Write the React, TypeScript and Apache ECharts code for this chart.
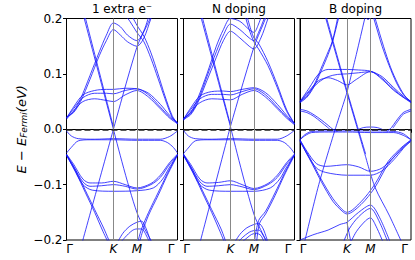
import React, { useEffect, useRef } from "react";
import * as echarts from "echarts";

// k-path positions: Γ=0, K=1, M=1.5, Γ=2.366
const kTicks = [0, 1, 1.5, 2.366];
const kLabels = ["Γ", "K", "M", "Γ"];
const yTicks = [-0.2, -0.1, 0, 0.1, 0.2];
const titles = ["1 extra e⁻", "N doping", "B doping"];

// Panel 1: 1 extra electron
const p1Upper = [
  [[0.3, 0.225], [1.0, 0.0]],
  [[0.33, 0.225], [1.0, 0.004]],
  [[1.0, 0.0], [1.5, 0.148], [1.7, 0.185], [1.85, 0.212]],
  [[0, 0.022], [0.15, 0.032], [0.3, 0.055], [0.5, 0.097], [0.7, 0.14], [0.85, 0.17], [1.0, 0.192], [1.15, 0.185], [1.3, 0.17], [1.5, 0.16], [1.65, 0.178], [1.78, 0.212]],
  [[0, 0.022], [0.15, 0.03], [0.3, 0.05], [0.5, 0.09], [0.7, 0.133], [0.85, 0.16], [1.0, 0.18], [1.15, 0.17], [1.3, 0.158], [1.5, 0.15], [1.65, 0.165], [1.8, 0.2], [1.86, 0.212]],
  [[2.366, 0.01], [2.25, 0.025], [2.1, 0.06], [1.95, 0.1], [1.8, 0.138], [1.65, 0.168], [1.5, 0.188], [1.35, 0.212]],
  [[2.366, 0.01], [2.25, 0.022], [2.1, 0.055], [1.95, 0.092], [1.8, 0.128], [1.65, 0.158], [1.5, 0.175], [1.35, 0.195], [1.2, 0.212]],
  [[0, 0.02], [0.15, 0.04], [0.35, 0.062], [0.6, 0.07], [0.85, 0.072], [1.0, 0.072], [1.25, 0.074], [1.5, 0.073], [1.75, 0.065], [2.0, 0.045], [2.2, 0.025], [2.366, 0.012]],
  [[0, 0.02], [0.15, 0.037], [0.35, 0.057], [0.6, 0.065], [0.85, 0.065], [1.0, 0.064], [1.25, 0.07], [1.5, 0.073], [1.75, 0.062], [2.0, 0.04], [2.2, 0.022], [2.366, 0.012]],
  [[0, 0.018], [0.15, 0.033], [0.35, 0.05], [0.6, 0.055], [0.85, 0.052], [1.0, 0.05], [1.25, 0.062], [1.5, 0.07], [1.75, 0.058], [2.0, 0.037], [2.2, 0.02], [2.366, 0.01]],
];
const p1Lower = [
  [[1.0, 0.0], [0.3, -0.215]],
  [[1.0, 0.0], [1.5, -0.15], [1.9, -0.215]],
  [[0, -0.003], [0.1, -0.012], [0.25, -0.017], [0.6, -0.018], [1.0, -0.017], [1.5, -0.018], [2.0, -0.018], [2.2, -0.013], [2.366, -0.003]],
  [[0, -0.043], [0.1, -0.033], [0.25, -0.021], [0.5, -0.019], [1.0, -0.019], [1.5, -0.02], [2.0, -0.02], [2.15, -0.024], [2.28, -0.033], [2.366, -0.043]],
  [[0, -0.045], [0.15, -0.063], [0.35, -0.09], [0.5, -0.097], [0.75, -0.097], [1.0, -0.094], [1.25, -0.1], [1.5, -0.106], [1.8, -0.098], [2.0, -0.083], [2.2, -0.06], [2.366, -0.045]],
  [[0, -0.047], [0.15, -0.067], [0.35, -0.095], [0.5, -0.103], [0.75, -0.102], [1.0, -0.1], [1.25, -0.103], [1.5, -0.108], [1.8, -0.1], [2.0, -0.087], [2.2, -0.063], [2.366, -0.047]],
  [[0, -0.047], [0.15, -0.07], [0.35, -0.1], [0.55, -0.11], [1.0, -0.112], [1.5, -0.111], [1.85, -0.106], [2.05, -0.09], [2.2, -0.068], [2.366, -0.047]],
  [[0, -0.045], [0.2, -0.075], [0.4, -0.11], [0.6, -0.145], [0.8, -0.18], [0.95, -0.21]],
  [[0, -0.047], [0.2, -0.078], [0.4, -0.114], [0.6, -0.15], [0.78, -0.185], [0.92, -0.21]],
  [[2.366, -0.045], [2.15, -0.08], [1.95, -0.115], [1.75, -0.15], [1.6, -0.18], [1.5, -0.21]],
  [[2.366, -0.047], [2.15, -0.083], [1.95, -0.12], [1.75, -0.155], [1.62, -0.185], [1.54, -0.21]],
  [[1.05, -0.21], [1.2, -0.188], [1.35, -0.175], [1.5, -0.168], [1.6, -0.166], [1.7, -0.18], [1.82, -0.21]],
  [[1.1, -0.21], [1.25, -0.195], [1.4, -0.183], [1.5, -0.18], [1.6, -0.18], [1.72, -0.195], [1.8, -0.21]],
];

// Panel 2: N doping
const p2Upper = [
  [[0.3, 0.225], [1.0, 0.005]],
  [[0.33, 0.225], [1.0, 0.008]],
  [[1.0, 0.005], [1.5, 0.148], [1.7, 0.19], [1.82, 0.215]],
  [[0, 0.02], [0.15, 0.03], [0.3, 0.055], [0.5, 0.1], [0.7, 0.15], [0.85, 0.18], [1.0, 0.2], [1.2, 0.195], [1.4, 0.18], [1.5, 0.175], [1.6, 0.19], [1.7, 0.215]],
  [[0, 0.02], [0.15, 0.028], [0.3, 0.05], [0.5, 0.095], [0.7, 0.14], [0.85, 0.17], [1.0, 0.19], [1.2, 0.18], [1.4, 0.165], [1.5, 0.16], [1.6, 0.175], [1.72, 0.2], [1.78, 0.215]],
  [[0, 0.018], [0.15, 0.026], [0.3, 0.047], [0.5, 0.088], [0.7, 0.13], [0.85, 0.16], [1.0, 0.177], [1.2, 0.165], [1.4, 0.15], [1.5, 0.145], [1.65, 0.165], [1.8, 0.2], [1.85, 0.215]],
  [[2.366, 0.01], [2.2, 0.035], [2.0, 0.08], [1.8, 0.122], [1.6, 0.155], [1.5, 0.165], [1.4, 0.19], [1.32, 0.215]],
  [[2.366, 0.01], [2.2, 0.032], [2.0, 0.075], [1.8, 0.115], [1.6, 0.145], [1.5, 0.158], [1.4, 0.18], [1.28, 0.215]],
  [[0, 0.018], [0.15, 0.038], [0.35, 0.06], [0.6, 0.068], [0.85, 0.069], [1.0, 0.068], [1.25, 0.072], [1.5, 0.075], [1.75, 0.066], [2.0, 0.045], [2.2, 0.025], [2.366, 0.01]],
  [[0, 0.018], [0.15, 0.035], [0.35, 0.055], [0.6, 0.063], [0.85, 0.063], [1.0, 0.062], [1.25, 0.068], [1.5, 0.073], [1.75, 0.062], [2.0, 0.04], [2.2, 0.022], [2.366, 0.01]],
  [[0, 0.016], [0.15, 0.031], [0.35, 0.048], [0.6, 0.055], [0.85, 0.054], [1.0, 0.053], [1.25, 0.063], [1.5, 0.07], [1.75, 0.058], [2.0, 0.037], [2.2, 0.02], [2.366, 0.008]],
];
const p2Lower = [
  [[1.0, 0.005], [0.32, -0.215]],
  [[1.0, 0.005], [1.5, -0.153], [1.85, -0.215]],
  [[0, -0.002], [0.1, -0.012], [0.25, -0.017], [0.6, -0.018], [1.0, -0.017], [1.5, -0.018], [2.0, -0.018], [2.2, -0.012], [2.366, -0.002]],
  [[0, -0.044], [0.1, -0.034], [0.25, -0.021], [0.5, -0.019], [1.0, -0.019], [1.5, -0.02], [2.0, -0.02], [2.15, -0.024], [2.28, -0.034], [2.366, -0.044]],
  [[0, -0.045], [0.15, -0.063], [0.35, -0.09], [0.5, -0.097], [0.75, -0.096], [1.0, -0.093], [1.25, -0.1], [1.5, -0.107], [1.8, -0.098], [2.0, -0.083], [2.2, -0.06], [2.366, -0.045]],
  [[0, -0.047], [0.15, -0.067], [0.35, -0.095], [0.5, -0.103], [0.75, -0.102], [1.0, -0.1], [1.25, -0.104], [1.5, -0.109], [1.8, -0.1], [2.0, -0.087], [2.2, -0.063], [2.366, -0.047]],
  [[0, -0.047], [0.15, -0.07], [0.35, -0.1], [0.55, -0.11], [1.0, -0.112], [1.5, -0.112], [1.85, -0.106], [2.05, -0.09], [2.2, -0.068], [2.366, -0.047]],
  [[0, -0.045], [0.2, -0.075], [0.4, -0.11], [0.6, -0.145], [0.8, -0.18], [0.93, -0.21]],
  [[0, -0.047], [0.2, -0.078], [0.4, -0.114], [0.6, -0.15], [0.78, -0.185], [0.9, -0.21]],
  [[2.366, -0.045], [2.15, -0.08], [1.95, -0.115], [1.75, -0.148], [1.6, -0.165], [1.5, -0.21]],
  [[2.366, -0.047], [2.15, -0.083], [1.95, -0.12], [1.75, -0.153], [1.62, -0.17], [1.55, -0.21]],
  [[1.05, -0.21], [1.2, -0.19], [1.35, -0.178], [1.5, -0.172], [1.6, -0.17], [1.7, -0.18], [1.82, -0.21]],
  [[1.1, -0.21], [1.25, -0.196], [1.4, -0.186], [1.5, -0.183], [1.6, -0.182], [1.72, -0.195], [1.8, -0.21]],
  [[1.15, -0.21], [1.3, -0.2], [1.45, -0.19], [1.55, -0.188], [1.65, -0.192], [1.75, -0.21]],
];

// Panel 3: B doping
const p3Upper = [
  [[0.5, 0.215], [1.0, 0.066], [1.2, 0.008], [1.4, -0.05]],
  [[0.52, 0.215], [1.0, 0.07], [1.2, 0.012], [1.4, -0.045]],
  [[1.0, 0.066], [1.2, 0.135], [1.38, 0.2], [1.42, 0.215]],
  [[1.0, 0.066], [0.75, 0.0]],
  [[0, 0.05], [0.15, 0.06], [0.3, 0.08], [0.45, 0.11], [0.6, 0.14], [0.69, 0.159], [0.8, 0.2], [0.83, 0.215]],
  [[0, 0.048], [0.15, 0.058], [0.3, 0.077], [0.45, 0.105], [0.6, 0.135], [0.7, 0.16], [0.82, 0.2], [0.86, 0.215]],
  [[1.52, 0.212], [1.58, 0.198], [1.75, 0.15], [1.9, 0.115], [2.05, 0.085], [2.2, 0.063], [2.366, 0.05]],
  [[1.56, 0.212], [1.62, 0.195], [1.78, 0.15], [1.93, 0.112], [2.08, 0.083], [2.22, 0.062], [2.366, 0.048]],
  [[1.3, 0.215], [1.38, 0.205], [1.45, 0.198], [1.52, 0.205], [1.56, 0.215]],
  [[0, 0.05], [0.2, 0.075], [0.4, 0.1], [0.6, 0.108], [1.0, 0.108], [1.25, 0.107], [1.5, 0.105], [1.75, 0.095], [2.0, 0.075], [2.2, 0.06], [2.366, 0.05]],
  [[0, 0.05], [0.2, 0.07], [0.4, 0.088], [0.6, 0.093], [0.8, 0.088], [1.0, 0.08], [1.2, 0.09], [1.5, 0.104], [1.75, 0.092], [2.0, 0.072], [2.2, 0.058], [2.366, 0.05]],
  [[0, 0.048], [0.2, 0.068], [0.4, 0.085], [0.6, 0.095], [0.8, 0.099], [1.0, 0.1], [1.25, 0.102], [1.5, 0.104], [1.75, 0.09], [2.0, 0.07], [2.366, 0.048]],
  [[0, 0.036], [0.15, 0.033], [0.3, 0.026], [0.45, 0.017], [0.6, 0.007], [0.7, 0.0], [0.8, -0.004]],
  [[0, 0.033], [0.15, 0.03], [0.3, 0.023], [0.45, 0.013], [0.58, 0.004], [0.66, -0.002]],
  [[2.366, 0.036], [2.2, 0.03], [2.05, 0.015], [1.95, 0.003], [1.85, -0.004]],
  [[2.366, 0.033], [2.2, 0.027], [2.08, 0.014], [1.98, 0.002]],
  [[1.2, -0.002], [1.35, 0.003], [1.5, 0.004], [1.65, 0.003], [1.8, -0.002]],
];
const p3Lower = [
  [[0.75, 0.0], [0.4, -0.1], [0.08, -0.21]],
  [[1.4, -0.05], [1.6, -0.105], [1.9, -0.155], [2.2, -0.21]],
  [[0, -0.019], [0.1, -0.01], [0.25, -0.004], [0.6, -0.003], [1.0, -0.003], [1.5, -0.003], [2.0, -0.004], [2.2, -0.008], [2.366, -0.019]],
  [[0, -0.019], [0.1, -0.012], [0.25, -0.006], [0.6, -0.005], [1.0, -0.005], [1.5, -0.006], [2.0, -0.006], [2.2, -0.011], [2.366, -0.019]],
  [[0, -0.019], [0.15, -0.04], [0.35, -0.062], [0.55, -0.067], [1.0, -0.064], [1.25, -0.068], [1.5, -0.076], [1.75, -0.07], [2.0, -0.05], [2.2, -0.032], [2.366, -0.019]],
  [[0, -0.02], [0.15, -0.045], [0.35, -0.07], [0.55, -0.078], [1.0, -0.083], [1.3, -0.083], [1.5, -0.083], [1.75, -0.075], [2.0, -0.055], [2.2, -0.035], [2.366, -0.02]],
  [[0, -0.02], [0.2, -0.05], [0.45, -0.09], [0.7, -0.125], [0.9, -0.145], [1.0, -0.15], [1.3, -0.131], [1.59, -0.1], [1.88, -0.058], [2.2, -0.03], [2.366, -0.02]],
  [[0, -0.022], [0.2, -0.053], [0.45, -0.094], [0.7, -0.13], [0.9, -0.148], [1.0, -0.153], [1.3, -0.136], [1.59, -0.106], [1.88, -0.063], [2.2, -0.033], [2.366, -0.022]],
  [[0, -0.2], [0.3, -0.19], [0.6, -0.182], [0.85, -0.172], [1.0, -0.168], [1.25, -0.15], [1.5, -0.137], [1.7, -0.16], [1.95, -0.21]],
  [[0.9, -0.21], [1.05, -0.18], [1.25, -0.158], [1.5, -0.143], [1.68, -0.165], [1.9, -0.21]],
  [[1.0, -0.168], [1.1, -0.21]],
  [[1.05, -0.21], [1.2, -0.185], [1.4, -0.165], [1.5, -0.16], [1.62, -0.175], [1.8, -0.21]],
];

const panels = [
  { upper: p1Upper, lower: p1Lower },
  { upper: p2Upper, lower: p2Lower },
  { upper: p3Upper, lower: p3Lower },
];

const FONT = "DejaVu Sans";
const BAND = "rgba(20,20,255,0.8)";

export default function App() {
  const ref = useRef<HTMLDivElement>(null);
  useEffect(() => {
    const chart = echarts.init(ref.current!, null, { renderer: "svg" });
    const lefts = [66.5, 183.5, 300];
    const width = 111;
    const top = 18.5;
    const height = 221.5;
    const grids = lefts.map((l) => ({
      left: l,
      top,
      width,
      height,
      show: true,
      borderColor: "#000",
      borderWidth: 1,
      containLabel: false,
    }));
    const labStyle = { fontFamily: FONT, fontSize: 12, color: "#000" };
    const xAxes = lefts.map((_, i) => ({
      type: "value",
      gridIndex: i,
      min: 0,
      max: kTicks[3],
      axisLine: { show: true, lineStyle: { color: "#000", width: 1 } },
      splitLine: { show: false },
      axisTick: {
        show: true,
        customValues: kTicks,
        length: 3.5,
        lineStyle: { color: "#000" },
      },
      axisLabel: {
        show: true,
        customValues: kTicks,
        margin: 3,
        ...labStyle,
        formatter: (v: number) => {
          let best = 0;
          kTicks.forEach((t, j) => {
            if (Math.abs(t - v) < Math.abs(kTicks[best] - v)) best = j;
          });
          const s = kLabels[best];
          if (best === 0) return "{gl|" + s + "}";
          if (best === 3) return "{gr|" + s + "}";
          return "{it|" + s + "}";
        },
        rich: {
          it: { ...labStyle, fontStyle: "italic" },
          gl: { ...labStyle, padding: [0, 0, 0, 6] },
          gr: { ...labStyle, padding: [0, 13, 0, 0] },
        },
      },
    }));
    const yAxes = lefts.map((_, i) => ({
      type: "value",
      gridIndex: i,
      min: yTicks[0],
      max: yTicks[4],
      interval: 0.1,
      axisLine: { show: true, lineStyle: { color: "#000", width: 1 } },
      splitLine: { show: false },
      axisTick: { show: true, length: 3.5, lineStyle: { color: "#000" } },
      axisLabel: {
        show: i === 0,
        margin: 4,
        ...labStyle,
        formatter: (v: number) => {
          const s = (Math.abs(v) < 1e-9 ? 0 : v).toFixed(1);
          return s.replace("-", "−");
        },
      },
      name: i === 0 ? "{i|E} − {i|E}{s|Fermi}{n|(eV)}" : "",
      nameLocation: "middle",
      nameGap: 38,
      nameRotate: 90,
      nameTextStyle: {
        fontFamily: FONT,
        fontSize: 13,
        color: "#000",
        rich: {
          i: { fontStyle: "italic", fontFamily: FONT, fontSize: 13, color: "#000" },
          s: { fontStyle: "italic", fontFamily: FONT, fontSize: 9, color: "#000", verticalAlign: "bottom", padding: [5, 0, 0, 0] },
          n: { fontStyle: "italic", fontFamily: FONT, fontSize: 13, color: "#000" },
        },
      },
    }));
    const series: any[] = [];
    panels.forEach((p, i) => {
      series.push({
        type: "line",
        xAxisIndex: i,
        yAxisIndex: i,
        data: [],
        silent: true,
        z: 1,
        markLine: {
          silent: true,
          symbol: "none",
          label: { show: false },
          lineStyle: { color: "#888", width: 1, type: "solid" },
          data: [{ xAxis: kTicks[1] }, { xAxis: kTicks[2] }],
        },
      });
      [...p.upper, ...p.lower].forEach((band) => {
        series.push({
          type: "line",
          xAxisIndex: i,
          yAxisIndex: i,
          data: band,
          showSymbol: false,
          symbol: "none",
          smooth: 0.3,
          silent: true,
          z: 2,
          lineStyle: { color: BAND, width: 1 },
        });
      });
      series.push({
        type: "line",
        xAxisIndex: i,
        yAxisIndex: i,
        data: [],
        silent: true,
        z: 5,
        markLine: {
          silent: true,
          symbol: "none",
          label: { show: false },
          lineStyle: { color: "#222", width: 1.6, type: [6, 3] },
          data: [{ yAxis: 0 }],
        },
      });
    });
    const graphic = titles.map((t, i) => ({
      type: "text",
      x: lefts[i] + width / 2,
      y: 3,
      style: {
        text: t,
        fontFamily: FONT,
        fontSize: 12,
        fill: "#000",
        textAlign: "center",
      },
    }));
    chart.setOption({
      animation: false,
      backgroundColor: "#fff",
      grid: grids,
      xAxis: xAxes,
      yAxis: yAxes,
      series,
      graphic,
    });
    return () => chart.dispose();
  }, []);
  return (
    <div
      ref={ref}
      style={{ position: "fixed", left: 0, top: 0, width: 415, height: 260 }}
    />
  );
}
